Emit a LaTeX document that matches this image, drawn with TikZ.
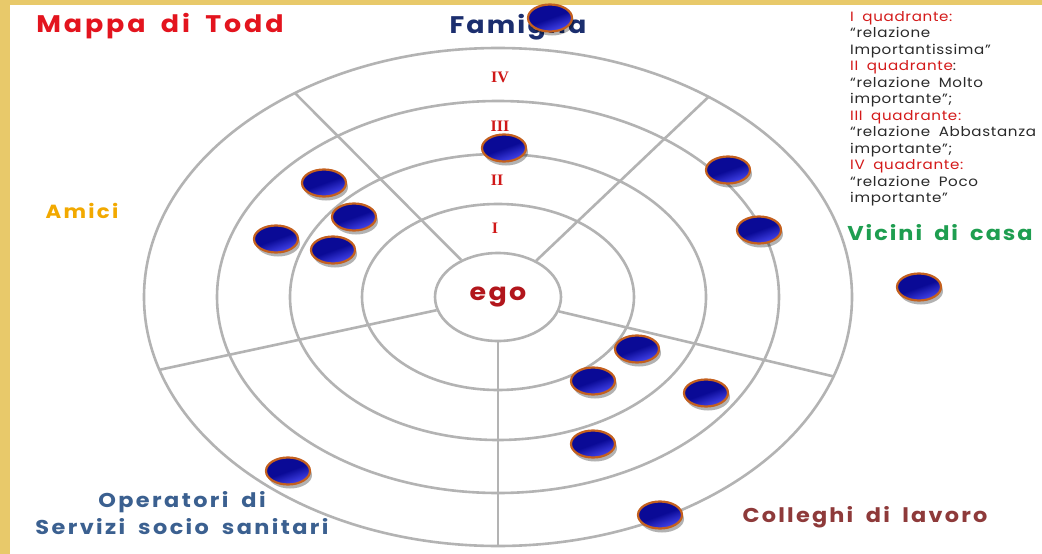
\documentclass[tikz,border=0pt]{standalone}
\usepackage{fontspec}
\setmainfont{Poppins}[WordSpace=1.8]
\newfontfamily\numfont{Liberation Serif}
\usetikzlibrary{shapes.geometric,shadows}
\definecolor{bordertan}{HTML}{E8C96A}
\definecolor{ringgray}{HTML}{B3B3B3}
\definecolor{titlered}{HTML}{E3141E}
\definecolor{famnavy}{HTML}{1B2E6E}
\definecolor{amicicol}{HTML}{F2A900}
\definecolor{vicinicol}{HTML}{1E9E50}
\definecolor{opercol}{HTML}{3B6090}
\definecolor{collcol}{HTML}{8E3A3A}
\definecolor{egocol}{HTML}{B2161C}
\definecolor{numred}{HTML}{D01818}
\definecolor{legred}{HTML}{D41A1A}
\definecolor{legdark}{HTML}{2A2A2A}
\definecolor{dotdark}{HTML}{0A0A96}
\definecolor{dothi}{HTML}{4A4AF5}
\definecolor{dotborder}{HTML}{C4601E}
\newcommand{\spaced}[1]{\addfontfeatures{FakeStretch=1.12,LetterSpace=#1}}
\tikzset{
  ring/.style={draw=ringgray, line width=2.6pt},
  bluedot/.style={ellipse, minimum width=44pt, minimum height=27pt, inner sep=0pt,
    draw=dotborder, line width=2.2pt, top color=dotdark, bottom color=dothi, middle color=dotdark,
    shading angle=20,
    drop shadow={shadow xshift=2pt, shadow yshift=-4pt, opacity=0.3, fill=black}},
  lbl/.style={inner sep=0pt},
  num/.style={font=\numfont\bfseries\fontsize{16}{16}\selectfont, text=numred, inner sep=0pt},
}
\begin{document}
\begin{tikzpicture}[x=1pt,y=-1pt]
\useasboundingbox (0,0) rectangle (1042,554);
\fill[bordertan] (0,0) rectangle (1042,554);
\fill[white] (10,5) rectangle (1042,554);
% rings
\draw[ring] (498,297) ellipse [x radius=354, y radius=249];
\draw[ring] (498,297) ellipse [x radius=281, y radius=196];
\draw[ring] (498,297) ellipse [x radius=208, y radius=143];
\draw[ring] (498,297) ellipse [x radius=136, y radius=93];
\node[ellipse, draw=ringgray, line width=2.6pt, fill=white, minimum width=126pt, minimum height=88pt, inner sep=0pt,
  font=\bfseries\fontsize{24}{24}\selectfont\spaced{10}, text=egocol] (ego) at (498,297) {ego};
% spoke end points
\coordinate (o1) at ({498+354*cos(53.5)},{297-249*sin(53.5)});
\coordinate (o2) at ({498+354*cos(125)},{297-249*sin(125)});
\coordinate (o3) at ({498+354*cos(197)},{297-249*sin(197)});
\coordinate (o4) at (498,546);
\coordinate (o5) at ({498+354*cos(-18.6)},{297-249*sin(-18.6)});
\foreach \o in {o1,o2,o3,o4,o5} \draw[ring] (ego) -- (\o);
% ring numerals
\node[num] (n4) at (500,77) {IV};
\node[num] (n3) at (500,126) {III};
\node[num] (n2) at (497,180) {II};
\node[num] (n1) at (495,228) {I};
% labels
\node[lbl, text=titlered, font=\bfseries\fontsize{24}{24}\selectfont\spaced{12}] (title) at (160,26) {Mappa di Todd};
\node[lbl, text=famnavy, font=\bfseries\fontsize{24}{24}\selectfont\spaced{9}] (fam) at (518,27) {Famiglia};
\node[lbl, text=amicicol, font=\bfseries\fontsize{19}{19}\selectfont\spaced{12}] (amici) at (82,211) {Amici};
\node[lbl, text=vicinicol, font=\bfseries\fontsize{20}{20}\selectfont\spaced{10}] (vicini) at (940,233) {Vicini di casa};
\node[lbl, text=opercol, font=\bfseries\fontsize{20}{27}\selectfont\spaced{12}, align=center] (oper) at (182,513) {Operatori di\\Servizi socio sanitari};
\node[lbl, text=collcol, font=\bfseries\fontsize{20}{20}\selectfont\spaced{11}] (coll) at (865,517) {Colleghi di lavoro};
% legend
\node[anchor=north west, align=left, inner sep=0pt, text=legdark, font=\fontsize{13.5}{16.5}\selectfont\spaced{5}] (leg) at (850,11) {%
\textcolor{legred}{I quadrante:}\\“relazione\\Importantissima”\\
\textcolor{legred}{II quadrante}:\\“relazione Molto\\importante”;\\
\textcolor{legred}{III quadrante:}\\“relazione Abbastanza\\importante”;\\
\textcolor{legred}{IV quadrante:}\\“relazione Poco\\importante”};
% dots
\node[bluedot] (d1) at (550,18) {};
\node[bluedot] (d2) at (504,148) {};
\node[bluedot] (d3) at (324,183) {};
\node[bluedot] (d4) at (354,217) {};
\node[bluedot] (d5) at (276,239) {};
\node[bluedot] (d6) at (333,250) {};
\node[bluedot] (d7) at (728,170) {};
\node[bluedot] (d8) at (759,230) {};
\node[bluedot] (d9) at (919,287) {};
\node[bluedot] (d10) at (637,349) {};
\node[bluedot] (d11) at (593,381) {};
\node[bluedot] (d12) at (706,393) {};
\node[bluedot] (d13) at (593,444) {};
\node[bluedot] (d14) at (288,471) {};
\node[bluedot] (d15) at (660,515) {};
\end{tikzpicture}
\end{document}
